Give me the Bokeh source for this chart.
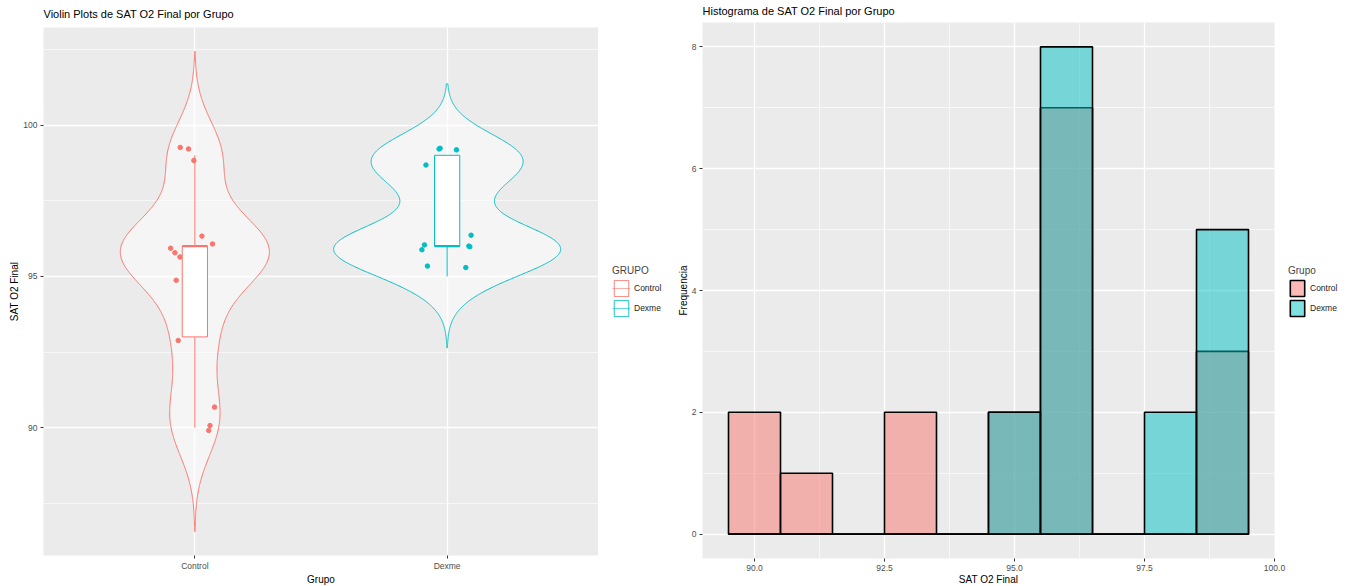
import numpy as np
from bokeh.plotting import figure
from bokeh.layouts import row, column
from bokeh.models import (ColumnDataSource, FixedTicker, Legend, LegendItem,
                          NumeralTickFormatter, Range1d)
from bokeh.embed import file_html
from bokeh.resources import INLINE

# ---------------------------------------------------------------- data
groups = ["Control", "Dexme"]
group_colors = ["#F8766D", "#00BFC4"]

sat_control = [90, 90, 91, 93, 93, 95, 95, 96, 96, 96, 96, 96, 96, 96, 99, 99, 99]
sat_dexme = [95, 95, 96, 96, 96, 96, 96, 96, 96, 96, 98, 98, 99, 99, 99, 99, 99]

# jitter of each point (same order as the values above):
# horizontal offset in category units, vertical offset in SAT units
jit_dx_control = [0.06, 0.055, 0.078, -0.066, 0.03, -0.074, 0.02,
                  0.028, 0.07, -0.096, -0.079, -0.059, 0.01, -0.02,
                  -0.058, -0.025, -0.004]
jit_dy_control = [0.07, -0.09, -0.32, -0.12, 0.25, -0.13, 0.2,
                  0.33, 0.07, -0.07, -0.22, -0.36, -0.15, -0.3,
                  0.26, 0.21, -0.17]
jit_dx_dexme = [-0.078, 0.074,
                0.095, -0.09, -0.10, 0.086, 0.09, 0.01, -0.03, 0.02,
                0.0, -0.035,
                -0.032, -0.028, 0.037, -0.084, 0.015]
jit_dy_dexme = [0.34, 0.29,
                0.36, 0.04, -0.12, 0.0, -0.02, 0.2, 0.35, 0.1,
                0.15, -0.2,
                0.21, 0.23, 0.18, -0.32, -0.25]

violin_ticks = [90, 95, 100]
violin_minor = [87.5, 92.5, 97.5, 102.5]
hist_xticks = [90, 92.5, 95, 97.5, 100]
hist_xminor = [91.25, 93.75, 96.25, 98.75]
hist_yticks = [0, 2, 4, 6, 8]
hist_yminor = [1, 3, 5, 7]

FONT = "Liberation Sans"
PANEL_BG = "#EBEBEB"
H = 586

series = [sat_control, sat_dexme]
jit_dx = [jit_dx_control, jit_dx_dexme]
jit_dy = [jit_dy_control, jit_dy_dexme]


def nrd0(v):
    v = np.asarray(v, float)
    q75, q25 = np.percentile(v, [75, 25])
    lo = min(v.std(ddof=1), (q75 - q25) / 1.34)
    return 0.9 * lo * len(v) ** -0.2


def kde(v, bw, grid):
    v = np.asarray(v, float)
    z = (grid[:, None] - v[None, :]) / bw
    return np.exp(-0.5 * z * z).sum(axis=1) / (len(v) * bw * np.sqrt(2 * np.pi))


def style(p, title_gap):
    p.background_fill_color = PANEL_BG
    p.border_fill_color = "white"
    p.outline_line_color = None
    p.title.text_font = FONT
    p.title.text_font_size = "11px"
    p.title.text_font_style = "normal"
    p.title.text_color = "black"
    p.title.align = "left"
    p.title.vertical_align = "top"
    p.title.standoff = title_gap
    for ax in (p.xaxis[0], p.yaxis[0]):
        ax.axis_line_color = None
        ax.major_tick_line_color = "#333333"
        ax.major_tick_out = 3
        ax.major_tick_in = 0
        ax.minor_tick_line_color = None
        ax.major_label_text_font = FONT
        ax.major_label_text_font_size = "8.5px"
        ax.major_label_text_color = "#4D4D4D"
        ax.major_label_standoff = 2
        ax.axis_label_text_font = FONT
        ax.axis_label_text_font_size = "10px"
        ax.axis_label_text_font_style = "normal"
        ax.axis_label_text_color = "black"
        ax.axis_label_standoff = 0
    for g in (p.xgrid[0], p.ygrid[0]):
        g.grid_line_color = "white"
        g.grid_line_width = 1.3
        g.minor_grid_line_color = "white"
        g.minor_grid_line_width = 0.6


def legend_canvas(w):
    # narrow white strip that only carries a legend; its x range keeps the
    # proxy glyphs out of view
    f = figure(width=w, height=H, output_backend="svg", toolbar_location=None,
               x_range=Range1d(10, 11), y_range=Range1d(0, 1),
               x_axis_location=None, y_axis_location=None, min_border=0)
    f.outline_line_color = None
    f.grid.visible = False
    f.background_fill_color = "white"
    f.border_fill_color = "white"
    return f


def style_legend(lg):
    lg.border_line_color = None
    lg.background_fill_alpha = 0
    lg.title_text_font = FONT
    lg.title_text_font_size = "10px"
    lg.title_text_font_style = "normal"
    lg.title_standoff = 2
    lg.label_text_font = FONT
    lg.label_text_font_size = "8.5px"
    lg.label_text_color = "#222222"
    lg.glyph_width = 18
    lg.glyph_height = 20
    lg.label_height = 18
    lg.label_standoff = 4
    lg.spacing = -2
    lg.padding = 6
    lg.margin = 0


# ---------------------------------------------------------------- violins
bws = [nrd0(v) for v in series]
grids = [np.linspace(min(v) - 3 * b, max(v) + 3 * b, 512) for v, b in zip(series, bws)]
dens = [kde(v, b, g) for v, b, g in zip(series, bws, grids)]
dmax = max(d.max() for d in dens)
ylo = min(g.min() for g in grids)
yhi = max(g.max() for g in grids)
pad = 0.05 * (yhi - ylo)

p1 = figure(frame_width=555, frame_height=528, output_backend="svg",
            toolbar_location=None,
            title="Violin Plots de SAT O2 Final por Grupo",
            x_range=Range1d(0.4, 2.6), y_range=Range1d(ylo - pad, yhi + pad),
            x_axis_label="Grupo", y_axis_label="SAT O2 Final",
            min_border_left=43, min_border_right=0, min_border_top=27,
            min_border_bottom=31)
style(p1, 12)
p1.xaxis.ticker = FixedTicker(ticks=[1, 2])
p1.xaxis.major_label_overrides = {1: "Control", 2: "Dexme"}
p1.yaxis.ticker = FixedTicker(ticks=violin_ticks, minor_ticks=violin_minor)

leg1 = legend_canvas(70)

violin_src = []
for i, (vals, col) in enumerate(zip(series, group_colors)):
    c = i + 1
    half = dens[i] / dmax * 0.45
    xs = np.concatenate([c + half, (c - half)[::-1]])
    ys = np.concatenate([grids[i], grids[i][::-1]])
    violin_src.append(ColumnDataSource(dict(x=xs, y=ys)))
    p1.patch("x", "y", source=violin_src[i], fill_color="white", fill_alpha=0.5,
             line_color=col, line_width=1)

for i, (vals, col) in enumerate(zip(series, group_colors)):
    c = i + 1
    px = c + np.asarray(jit_dx[i])
    py = np.asarray(vals, float) + np.asarray(jit_dy[i])
    p1.scatter(px, py, size=4.5, fill_color=col, line_color=col)

legend_items = []
for i, (vals, col) in enumerate(zip(series, group_colors)):
    c = i + 1
    v = np.asarray(vals, float)
    q1, med, q3 = np.percentile(v, [25, 50, 75])
    iqr = q3 - q1
    lo_w = v[v >= q1 - 1.5 * iqr].min()
    hi_w = v[v <= q3 + 1.5 * iqr].max()
    p1.segment([c, c], [lo_w, q3], [c, c], [q1, hi_w], line_color=col, line_width=1)
    box_src = ColumnDataSource(dict(l=[c - 0.05], r=[c + 0.05], b=[q1], t=[q3]))
    med_src = ColumnDataSource(dict(x0=[c - 0.05], x1=[c + 0.05], y=[med]))
    p1.quad(left="l", right="r", bottom="b", top="t", source=box_src,
            fill_color="white", line_color=col, line_width=1)
    p1.segment("x0", "y", "x1", "y", source=med_src, line_color=col, line_width=2.2)

    # same glyphs on the legend strip (outside its visible range) for the keys
    kv = leg1.patch("x", "y", source=violin_src[i], fill_color="white",
                    fill_alpha=0.5, line_color=col, line_alpha=0.6, line_width=1)
    kb = leg1.quad(left="l", right="r", bottom="b", top="t", source=box_src,
                   fill_color="white", fill_alpha=0.4, line_color=col,
                   line_alpha=0.6, line_width=1)
    km = leg1.segment("x0", "y", "x1", "y", source=med_src, line_color=col,
                      line_alpha=0.6, line_width=1)
    legend_items.append(LegendItem(label=groups[i], renderers=[kv, kb, km]))

lg1 = Legend(items=legend_items, title="GRUPO", location=(14, 268))
style_legend(lg1)
leg1.add_layout(lg1, "center")

# ---------------------------------------------------------------- histogram
edges = np.arange(89.5, 100.0, 1.0)
p2 = figure(frame_width=572, frame_height=536, output_backend="svg",
            toolbar_location=None,
            title="Histograma de SAT O2 Final por Grupo",
            x_range=Range1d(89.0, 100.0), y_range=Range1d(-0.4, 8.4),
            x_axis_label="SAT O2 Final", y_axis_label="Frequencia",
            min_border_left=34, min_border_right=14, min_border_top=22,
            min_border_bottom=28)
style(p2, 7)
p2.xaxis.ticker = FixedTicker(ticks=hist_xticks, minor_ticks=hist_xminor)
p2.xaxis.formatter = NumeralTickFormatter(format="0.0")
p2.yaxis.ticker = FixedTicker(ticks=hist_yticks, minor_ticks=hist_yminor)

leg2 = legend_canvas(60)
hist_items = []
for i, (vals, col) in enumerate(zip(series, group_colors)):
    counts, _ = np.histogram(vals, bins=edges)
    src = ColumnDataSource(dict(left=edges[:-1], right=edges[1:],
                                top=counts, bottom=np.zeros_like(counts)))
    p2.quad(left="left", right="right", top="top", bottom="bottom", source=src,
            fill_color=col, fill_alpha=0.5, line_color="black", line_width=1.6)
    k = leg2.quad(left="left", right="right", top="top", bottom="bottom", source=src,
                  fill_color=col, fill_alpha=0.5, line_color="black", line_width=1.6)
    hist_items.append(LegendItem(label=groups[i], renderers=[k]))

lg2 = Legend(items=hist_items, title="Grupo", location=(0, 268))
style_legend(lg2)
leg2.add_layout(lg2, "center")

layout = row(column(p1), column(leg1), column(p2), column(leg2))
open("out.html", "w").write(file_html(layout, INLINE))
